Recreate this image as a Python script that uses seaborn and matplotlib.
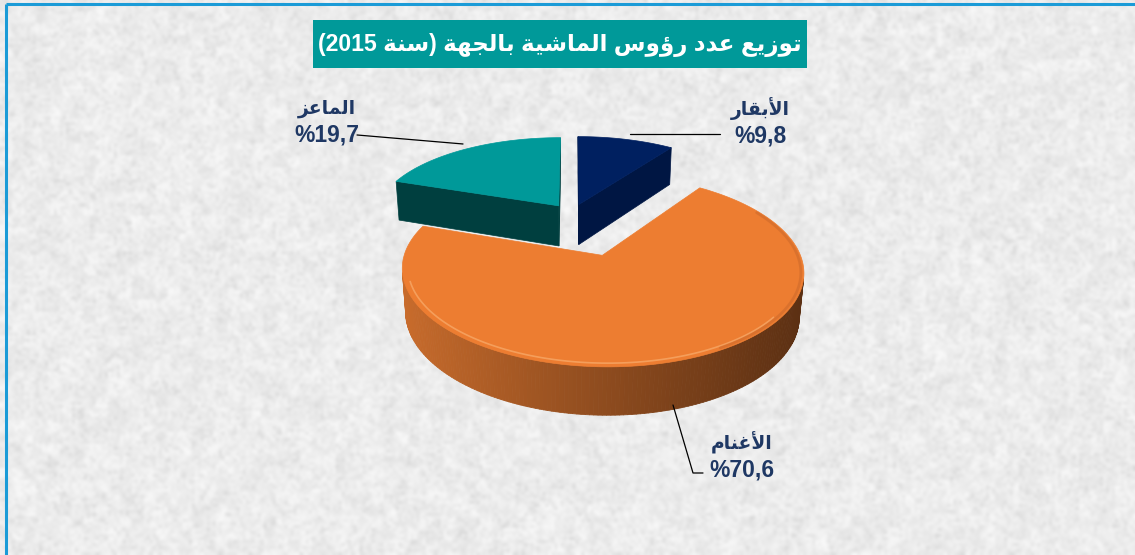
import re
import numpy as np
import matplotlib
matplotlib.use("Agg")
import matplotlib.pyplot as plt
from matplotlib.patches import Polygon, Rectangle
from matplotlib.collections import PolyCollection
import seaborn as sns

sns.set_theme(style="white")
plt.rcParams["font.family"] = ["Liberation Sans", "DejaVu Sans"]

# -----------------------------
# Data
# -----------------------------
categories = ["الأبقار", "الأغنام", "الماعز"]
shares = [9.8, 70.6, 19.7]
explode = [0.126, 0.5, 0.126]
title = "توزيع عدد رؤوس الماشية بالجهة (سنة 2015)"

top_colors = ["#002060", "#ED7D31", "#009999"]
face_colors = ["#001643", "#8f4b1f", "#003f3f"]
side_left = ["#001643", "#c96c2c", "#003f3f"]
side_right = ["#001643", "#5c3013", "#003f3f"]

# label placement (pixels) and leader lines
label_xy = [(760, 109), (742, 443), (327, 108)]
leaders = [[(630, 134), (720, 134)],
           [(673, 405), (693, 473), (703, 473)],
           [(463, 144), (357, 135)]]

# pie geometry (pixels / perspective)
CX, CY, R = 572, 214, 184
ELEV, DIST, DEPTH = np.radians(26), 6.0, 0.25

# -----------------------------
# Arabic shaping (presentation forms, visual order)
# -----------------------------
AR_FORMS = {
    "ا": "\ufe8d\ufe8e", "أ": "\ufe83\ufe84", "ة": "\ufe93\ufe94",
    "د": "\ufea9\ufeaa", "ر": "\ufead\ufeae", "ز": "\ufeaf\ufeb0",
    "و": "\ufeed\ufeee", "ؤ": "\ufe85\ufe86",
    "ب": "\ufe8f\ufe90\ufe91\ufe92", "ت": "\ufe95\ufe96\ufe97\ufe98",
    "ج": "\ufe9d\ufe9e\ufe9f\ufea0", "س": "\ufeb1\ufeb2\ufeb3\ufeb4",
    "ش": "\ufeb5\ufeb6\ufeb7\ufeb8", "ع": "\ufec9\ufeca\ufecb\ufecc",
    "غ": "\ufecd\ufece\ufecf\ufed0", "ق": "\ufed5\ufed6\ufed7\ufed8",
    "ل": "\ufedd\ufede\ufedf\ufee0", "م": "\ufee1\ufee2\ufee3\ufee4",
    "ن": "\ufee5\ufee6\ufee7\ufee8", "ه": "\ufee9\ufeea\ufeeb\ufeec",
    "ي": "\ufef1\ufef2\ufef3\ufef4",
}
LAM_ALEF = {"أ": "\ufef7\ufef8", "ا": "\ufefb\ufefc"}


def joins_next(c):
    return c in AR_FORMS and len(AR_FORMS[c]) == 4


def shape_ar(text):
    out = []
    i = 0
    while i < len(text):
        c = text[i]
        pj = i > 0 and joins_next(text[i - 1])
        if c == "ل" and i + 1 < len(text) and text[i + 1] in LAM_ALEF:
            out.append(LAM_ALEF[text[i + 1]][1 if pj else 0])
            i += 2
            continue
        if c in AR_FORMS:
            f = AR_FORMS[c]
            nj = len(f) == 4 and i + 1 < len(text) and text[i + 1] in AR_FORMS
            idx = 3 if (pj and nj) else 1 if pj else 2 if nj else 0
            out.append(f[idx])
        else:
            out.append(c)
        i += 1
    runs = re.findall(r"[0-9.,]+|[^0-9.,]+", "".join(out))
    mirror = str.maketrans("()", ")(")
    vis = [r if r[0].isdigit() else r[::-1].translate(mirror) for r in reversed(runs)]
    return "".join(vis)


# -----------------------------
# 3D projection helpers
# -----------------------------
camera = np.array([0.0, -DIST * np.cos(ELEV), DIST * np.sin(ELEV)])


def project(x, y, z):
    d = y * np.cos(ELEV) - z * np.sin(ELEV)
    s = DIST / (DIST + d)
    return CX + R * x * s, CY - R * (y * np.sin(ELEV) + z * np.cos(ELEV)) * s


def visible(normal, point):
    return np.dot(normal, camera - np.asarray(point)) > 0


def mix(c1, c2, t):
    a = np.array(matplotlib.colors.to_rgb(c1))
    b = np.array(matplotlib.colors.to_rgb(c2))
    return tuple(a * (1 - t) + b * t)


# -----------------------------
# Figure
# -----------------------------
fig = plt.figure(figsize=(11.3502, 5.5502), dpi=100)
ax = fig.add_axes([0, 0, 1, 1])
ax.set_xlim(0, 1135)
ax.set_ylim(555, 0)
ax.axis("off")

# textured paper background
rng = np.random.default_rng(11)
coarse = np.kron(rng.random((47, 95)), np.ones((4, 4)))[:185, :379]
tex = (0.93 + 0.06 * (rng.random((185, 379)) - 0.5) + 0.04 * (coarse - 0.5)
       - 0.045 * (rng.random((185, 379)) > 0.86))
ax.imshow(tex, cmap="gray", vmin=0, vmax=1, extent=(0, 1135, 555, 0),
          interpolation="bicubic", aspect="auto", zorder=0)

# border (top and left only)
ax.plot([6, 6], [555, 4], color="#1B9BD7", lw=2.2, solid_capstyle="butt", zorder=1)
ax.plot([6, 1135], [4, 4], color="#1B9BD7", lw=2.2, solid_capstyle="butt", zorder=1)

# slice angles (clockwise from 12 o'clock)
fracs = np.array(shares) / sum(shares)
angles = []
start = 90.0
for f in fracs:
    angles.append((start - f * 360, start))
    start -= f * 360

mids = [np.radians((lo + hi) / 2) for lo, hi in angles]
order = np.argsort([-e * np.sin(m) for e, m in zip(explode, mids)])

z = 2
for i in order:
    lo, hi = angles[i]
    ox, oy = explode[i] * np.cos(mids[i]), explode[i] * np.sin(mids[i])

    # radial faces
    for a, na in [(lo, lo - 90), (hi, hi + 90)]:
        ar, nr = np.radians(a), np.radians(na)
        n = np.array([np.cos(nr), np.sin(nr), 0])
        if visible(n, (ox, oy, -DEPTH / 2)):
            pts = [project(ox, oy, 0), project(ox + np.cos(ar), oy + np.sin(ar), 0),
                   project(ox + np.cos(ar), oy + np.sin(ar), -DEPTH), project(ox, oy, -DEPTH)]
            ax.add_patch(Polygon(pts, closed=True, fc=face_colors[i], ec=face_colors[i],
                                 lw=0.5, zorder=z))
    z += 1

    # curved outer wall
    th = np.radians(np.linspace(lo, hi, 241))
    rx, ry = project(ox + np.cos(th), oy + np.sin(th), 0)
    bx, by = project(ox + np.cos(th), oy + np.sin(th), -DEPTH)
    xmin, xmax = rx.min(), rx.max()
    quads, cols = [], []
    for j in range(len(th) - 1):
        tm = (th[j] + th[j + 1]) / 2
        n = np.array([np.cos(tm), np.sin(tm), 0])
        if visible(n, (ox + np.cos(tm), oy + np.sin(tm), -DEPTH / 2)):
            quads.append([(rx[j], ry[j]), (rx[j + 1], ry[j + 1]),
                          (bx[j + 1], by[j + 1]), (bx[j], by[j])])
            t = np.clip(((rx[j] + rx[j + 1]) / 2 - xmin) / (xmax - xmin), 0, 1)
            cols.append(mix(side_left[i], side_right[i], t ** 0.9))
    if quads:
        ax.add_collection(PolyCollection(quads, facecolors=cols, edgecolors=cols,
                                         linewidths=0.6, zorder=z))
    z += 1

    # top face
    cx0, cy0 = project(ox, oy, 0)
    top = [(cx0, cy0)] + list(zip(rx, ry))
    ax.add_patch(Polygon(top, closed=True, fc=top_colors[i], ec=top_colors[i],
                         lw=0.5, zorder=z))
    z += 1

    # soft bevel highlight on the front rim
    if i == 1:
        hth = np.radians(np.linspace(196, 322, 100))
        hx, hy = project(ox + 0.972 * np.cos(hth), oy + 0.972 * np.sin(hth), 0)
        ax.plot(hx, hy, color="#f7a766", lw=1.2, alpha=0.8, zorder=z)
        sth = np.radians(np.linspace(-60, 30, 80))
        sx, sy = project(ox + 0.985 * np.cos(sth), oy + 0.985 * np.sin(sth), 0)
        ax.plot(sx, sy, color="#c9672a", lw=2.0, alpha=0.5, zorder=z)
        z += 1

# leader lines
for pts in leaders:
    xs, ys = zip(*pts)
    ax.plot(xs, ys, color="black", lw=0.9, zorder=z)

# category labels and percentages
for name, val, (lx, ly) in zip(categories, shares, label_xy):
    ax.text(lx, ly, shape_ar(name), ha="center", va="center", fontsize=13.5,
            fontweight="bold", color="#1F3864", family=["DejaVu Sans"], zorder=z + 1)
    ax.text(lx, ly + 27, "%" + f"{val:.1f}".replace(".", ","), ha="center", va="center",
            fontsize=16.5, fontweight="bold", color="#1F3864", zorder=z + 1)

# title box
ax.add_patch(Rectangle((313, 20), 494, 48, fc="#009999", ec="none", zorder=z))
ax.text(560, 45, shape_ar(title), ha="center", va="center", fontsize=16.6,
        fontweight="bold", color="white", zorder=z + 1)

fig.savefig("out.png", dpi=100, facecolor="#eeeeee", edgecolor="none")
